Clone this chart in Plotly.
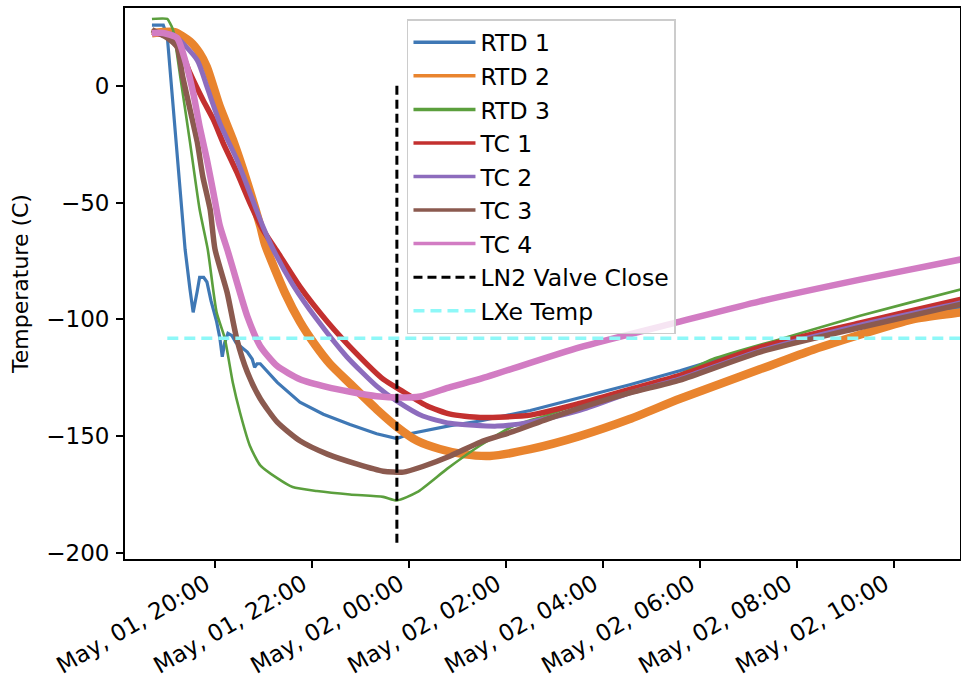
import plotly.graph_objects as go

# ---------------- data ----------------
rtd1_time = ["2019-05-01 18:42", "2019-05-01 18:56", "2019-05-01 19:01", "2019-05-01 19:12", "2019-05-01 19:23",
             "2019-05-01 19:29", "2019-05-01 19:33", "2019-05-01 19:38", "2019-05-01 19:41", "2019-05-01 19:46",
             "2019-05-01 19:50", "2019-05-01 19:55", "2019-05-01 20:02", "2019-05-01 20:06", "2019-05-01 20:09",
             "2019-05-01 20:12", "2019-05-01 20:16", "2019-05-01 20:21", "2019-05-01 20:26", "2019-05-01 20:40",
             "2019-05-01 20:46", "2019-05-01 20:49", "2019-05-01 20:52", "2019-05-01 20:56", "2019-05-01 21:17",
             "2019-05-01 21:45", "2019-05-01 22:14", "2019-05-01 22:47", "2019-05-01 23:20", "2019-05-01 23:45",
             "2019-05-02 00:01", "2019-05-02 00:51", "2019-05-02 01:28", "2019-05-02 02:30", "2019-05-02 03:31",
             "2019-05-02 04:33", "2019-05-02 05:35", "2019-05-02 07:14", "2019-05-02 09:18", "2019-05-02 11:22",
             "2019-05-02 11:53"]
rtd1_temp = [26, 26, 21, -25, -70, -87, -97, -88, -82, -82, -84, -92, -101, -108, -116, -110, -106, -107, -110,
             -114, -117, -120.5, -119, -119, -127, -135.5, -140.6, -145, -149, -151, -149, -145.5, -143.5, -139,
             -133.5, -128, -122, -111.5, -102, -95, -93]

rtd2_time = ["2019-05-01 18:42", "2019-05-01 19:10", "2019-05-01 19:29", "2019-05-01 19:41", "2019-05-01 19:50",
             "2019-05-01 20:06", "2019-05-01 20:22", "2019-05-01 20:40", "2019-05-01 20:56", "2019-05-01 21:02",
             "2019-05-01 21:27", "2019-05-01 21:45", "2019-05-01 22:04", "2019-05-01 22:22", "2019-05-01 22:47",
             "2019-05-01 23:20", "2019-05-01 23:45", "2019-05-02 00:10", "2019-05-02 00:38", "2019-05-02 01:07",
             "2019-05-02 01:40", "2019-05-02 02:30", "2019-05-02 03:31", "2019-05-02 04:33", "2019-05-02 05:35",
             "2019-05-02 07:14", "2019-05-02 08:20", "2019-05-02 10:23", "2019-05-02 11:22", "2019-05-02 11:53"]
rtd2_temp = [22.5, 23, 19, 14, 8, -9, -23, -41.5, -60, -68, -89, -101, -111, -119, -127.5, -138.5, -146, -152,
             -155.5, -157.7, -158.5, -155.6, -150, -142.7, -134, -121.4, -113, -100, -97, -95]

rtd3_time = ["2019-05-01 18:42", "2019-05-01 19:01", "2019-05-01 19:04", "2019-05-01 19:08", "2019-05-01 19:17",
             "2019-05-01 19:29", "2019-05-01 19:41", "2019-05-01 19:51", "2019-05-01 20:02", "2019-05-01 20:12",
             "2019-05-01 20:22", "2019-05-01 20:31", "2019-05-01 20:43", "2019-05-01 20:56", "2019-05-01 21:17",
             "2019-05-01 21:36", "2019-05-01 22:06", "2019-05-01 22:47", "2019-05-01 23:28", "2019-05-01 23:45",
             "2019-05-02 00:10", "2019-05-02 00:47", "2019-05-02 01:28", "2019-05-02 02:09", "2019-05-02 02:51",
             "2019-05-02 03:31", "2019-05-02 04:33", "2019-05-02 05:35", "2019-05-02 06:16", "2019-05-02 07:39",
             "2019-05-02 09:18", "2019-05-02 11:22", "2019-05-02 11:53"]
rtd3_temp = [28.6, 28.6, 27, 24, 4, -24, -53, -70, -97, -108, -127, -140, -154, -162.5, -168, -171.8, -173.5,
             -175, -176, -177.5, -174, -164, -154, -145.7, -141, -136, -130, -123.5, -117, -108.5, -98.5, -87.2,
             -84.5]

tc1_time = ["2019-05-01 18:42", "2019-05-01 19:01", "2019-05-01 19:17", "2019-05-01 19:29", "2019-05-01 19:45",
            "2019-05-01 19:58", "2019-05-01 20:10", "2019-05-01 20:27", "2019-05-01 20:43", "2019-05-01 20:59",
            "2019-05-01 21:17", "2019-05-01 21:45", "2019-05-01 22:19", "2019-05-01 22:56",
            "2019-05-01 23:28", "2019-05-01 23:53", "2019-05-02 00:22", "2019-05-02 00:51", "2019-05-02 01:28",
            "2019-05-02 02:30", "2019-05-02 03:31", "2019-05-02 04:33", "2019-05-02 05:35", "2019-05-02 07:14",
            "2019-05-02 09:18", "2019-05-02 11:22", "2019-05-02 11:53"]
tc1_temp = [23, 21, 15.4, 5.5, -6, -14.5, -24.4, -37, -50, -61.5, -71, -86, -101, -115, -125.6, -131, -137,
            -140.6, -142, -141, -136, -130, -124, -112, -101.5, -91.5, -89]

tc2_time = ["2019-05-01 18:42", "2019-05-01 19:08", "2019-05-01 19:38", "2019-05-01 19:50", "2019-05-01 20:06",
            "2019-05-01 20:27", "2019-05-01 20:43", "2019-05-01 20:59", "2019-05-01 21:12", "2019-05-01 21:36",
            "2019-05-01 22:06", "2019-05-01 22:43", "2019-05-01 23:20", "2019-05-01 23:45",
            "2019-05-02 00:17", "2019-05-02 00:51", "2019-05-02 01:49", "2019-05-02 02:30", "2019-05-02 03:31",
            "2019-05-02 04:33", "2019-05-02 05:35", "2019-05-02 07:14", "2019-05-02 09:18", "2019-05-02 11:22",
            "2019-05-02 11:53"]
tc2_temp = [22.6, 21.8, 11, -0.4, -16, -31.6, -45.7, -60, -70, -85, -100, -116, -128.6, -135, -141.4, -144.5,
            -145.7, -144, -139, -131.5, -125.5, -113.5, -102.5, -93, -90.5]

tc3_time = ["2019-05-01 18:42", "2019-05-01 19:01", "2019-05-01 19:13", "2019-05-01 19:20", "2019-05-01 19:29",
            "2019-05-01 19:38", "2019-05-01 19:45", "2019-05-01 19:54", "2019-05-01 20:00", "2019-05-01 20:15",
            "2019-05-01 20:27", "2019-05-01 20:40", "2019-05-01 20:56", "2019-05-01 21:17", "2019-05-01 21:45",
            "2019-05-01 22:19", "2019-05-01 22:56", "2019-05-01 23:28", "2019-05-01 23:53", "2019-05-02 00:17",
            "2019-05-02 00:51", "2019-05-02 01:28", "2019-05-02 02:09", "2019-05-02 02:51", "2019-05-02 03:31",
            "2019-05-02 04:33", "2019-05-02 05:35", "2019-05-02 07:14", "2019-05-02 09:18", "2019-05-02 11:22",
            "2019-05-02 11:53"]
tc3_temp = [24, 20.5, 16.7, 4, -10, -24, -39, -53, -70, -88.5, -108.5, -122.6, -134, -144, -152, -157.7, -162,
            -165, -165.4, -163, -158.5, -152.6, -148, -142.7, -138, -131.5, -126, -114, -103.5, -93.6, -91]

tc4_time = ["2019-05-01 18:42", "2019-05-01 18:56", "2019-05-01 19:13", "2019-05-01 19:23", "2019-05-01 19:33",
            "2019-05-01 19:41", "2019-05-01 19:50", "2019-05-01 19:58", "2019-05-01 20:06", "2019-05-01 20:16",
            "2019-05-01 20:27", "2019-05-01 20:40", "2019-05-01 20:56", "2019-05-01 21:17", "2019-05-01 21:45",
            "2019-05-01 22:19", "2019-05-01 22:47", "2019-05-01 23:20", "2019-05-01 23:49", "2019-05-02 00:14",
            "2019-05-02 00:51", "2019-05-02 01:28", "2019-05-02 03:31", "2019-05-02 05:35", "2019-05-02 07:14",
            "2019-05-02 09:18", "2019-05-02 11:22", "2019-05-02 11:53"]
tc4_temp = [22.5, 22.6, 20.5, 11, -3, -17.5, -31.6, -45.7, -60, -71, -84, -98.7, -111.5, -120, -125.6, -129, -131,
            -132.9, -133.5, -133, -129, -125.5, -112, -101, -92.3, -83, -74.4, -72]

valve_time = ["2019-05-01 23:45", "2019-05-01 23:45"]
valve_temp = [0, -196]

lxe_time = ["2019-05-01 19:01", "2019-05-02 11:53"]
lxe_temp = [-108.1, -108.1]

series_names = ["RTD 1", "RTD 2", "RTD 3", "TC 1", "TC 2", "TC 3", "TC 4"]
y_tick_vals = [0, -50, -100, -150, -200]
y_tick_text = ["0", "\u221250", "\u2212100", "\u2212150", "\u2212200"]

# ---------------- styles ----------------
colors = ["#3f78b5", "#e9842e", "#5b9f3d", "#c3302f", "#8d6cbd", "#8b5a4f", "#d27cc3"]
widths = [3.2, 8.5, 2.6, 5.5, 5, 5.5, 6.5]
shapes_ = ["linear", "spline", "spline", "spline", "spline", "spline", "spline"]
FONT = "DejaVu Sans"

fig = go.Figure()
series = [(rtd1_time, rtd1_temp), (rtd2_time, rtd2_temp), (rtd3_time, rtd3_temp),
          (tc1_time, tc1_temp), (tc2_time, tc2_temp), (tc3_time, tc3_temp), (tc4_time, tc4_temp)]

for (t, v), c, w, n, s in zip(series, colors, widths, series_names, shapes_):
    fig.add_trace(go.Scatter(x=t, y=v, mode="lines",
                             line=dict(color=c, width=w, shape=s, smoothing=0.6),
                             showlegend=False, name=n, hoverinfo="skip"))

# legend entries with uniform thin lines
for c, n in zip(colors, series_names):
    fig.add_trace(go.Scatter(x=[None], y=[None], mode="lines", line=dict(color=c, width=3.5),
                             name=n, legendgroup=n, showlegend=True))

fig.add_trace(go.Scatter(x=valve_time, y=valve_temp, mode="lines",
                         line=dict(color="black", width=3, dash="9px,5px"),
                         name="LN2 Valve Close", legendgroup="valve"))
fig.add_trace(go.Scatter(x=lxe_time, y=lxe_temp, mode="lines",
                         line=dict(color="#8ef8f8", width=3.5, dash="11px,6px"),
                         name="LXe Temp", legendgroup="lxe"))

axis_common = dict(showline=True, linecolor="black", linewidth=1.8, mirror=True,
                   ticks="outside", ticklen=7, tickwidth=1.6, tickcolor="black",
                   showgrid=False, zeroline=False, automargin=False,
                   tickfont=dict(family=FONT, size=23, color="black"))

fig.update_layout(
    width=961, height=681,
    margin=dict(l=125, r=1, t=8, b=122),
    paper_bgcolor="white", plot_bgcolor="white",
    font=dict(family=FONT, size=22, color="black"),
    xaxis=dict(type="date", range=["2019-05-01 18:08:40", "2019-05-02 11:21:36"],
               tickformat="%b, %d, %H:%M", dtick=7200000, tick0="2019-05-01 00:00",
               tickangle=-30, ticklabelshift=-9, ticklabelstandoff=-6, **axis_common),
    yaxis=dict(range=[-202.6, 33.3], tickvals=y_tick_vals, ticktext=y_tick_text,
               ticklabelstandoff=2,
               title=dict(text="Temperature (C)", standoff=12,
                          font=dict(family=FONT, size=22, color="black")),
               **axis_common),
    legend=dict(x=0.3377, y=0.98, xanchor="left", yanchor="top",
                bgcolor="rgba(255,255,255,0.8)", bordercolor="#cccccc", borderwidth=1.5,
                font=dict(family=FONT, size=23.5, color="black"),
                traceorder="grouped", tracegroupgap=0, itemwidth=62),
    showlegend=True,
)

fig.write_html("out.html", config={"displayModeBar": False},
               post_script="document.body.style.margin='0';document.body.style.overflow='hidden';")
